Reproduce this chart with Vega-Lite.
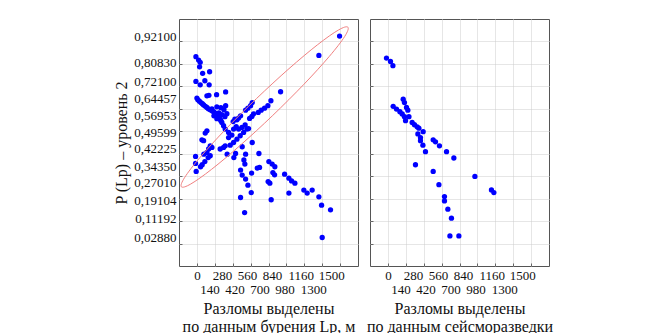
{
  "$schema": "https://vega.github.io/schema/vega-lite/v6.json",
  "padding": {"left": 113, "top": 18, "right": 5, "bottom": 0},
  "background": "white",
  "config": {
    "font": "Liberation Serif",
    "view": {"stroke": "#555555", "strokeWidth": 1},
    "axis": {
      "labelFont": "Liberation Serif", "titleFont": "Liberation Serif",
      "labelColor": "#111111", "titleColor": "#111111", "titleFontWeight": "normal",
      "domain": false, "gridColor": "#cccccc", "gridDash": [1, 1], "gridWidth": 1,
      "tickColor": "#666666"
    }
  },
  "datasets": {
    "drill": [
      {"x": 1594, "y": 0.924}, {"x": 1363, "y": 0.838},
      {"x": -11, "y": 0.832}, {"x": 19, "y": 0.817}, {"x": 37, "y": 0.807}, {"x": 30, "y": 0.787}, {"x": 64, "y": 0.758}, {"x": 142, "y": 0.765}, {"x": -11, "y": 0.722}, {"x": 37, "y": 0.707}, {"x": 89, "y": 0.725}, {"x": 137, "y": 0.707}, {"x": 112, "y": 0.658}, {"x": 134, "y": 0.66}, {"x": 220, "y": 0.663}, {"x": 321, "y": 0.675},
      {"x": 0, "y": 0.648}, {"x": 11, "y": 0.64}, {"x": 28, "y": 0.634}, {"x": 45, "y": 0.628}, {"x": 61, "y": 0.623}, {"x": 75, "y": 0.617}, {"x": 95, "y": 0.611}, {"x": 112, "y": 0.606}, {"x": 128, "y": 0.6}, {"x": 149, "y": 0.596}, {"x": 168, "y": 0.591}, {"x": 187, "y": 0.587}, {"x": 201, "y": 0.582}, {"x": 216, "y": 0.577}, {"x": 229, "y": 0.571}, {"x": 242, "y": 0.566}, {"x": 260, "y": 0.554}, {"x": 268, "y": 0.547}, {"x": 279, "y": 0.539}, {"x": 298, "y": 0.525}, {"x": 316, "y": 0.51}, {"x": 168, "y": 0.6}, {"x": 223, "y": 0.609}, {"x": 268, "y": 0.605}, {"x": 302, "y": 0.596}, {"x": 190, "y": 0.569}, {"x": 246, "y": 0.582}, {"x": 279, "y": 0.574}, {"x": 223, "y": 0.556}, {"x": 313, "y": 0.565}, {"x": 335, "y": 0.578}, {"x": 321, "y": 0.614},
      {"x": 544, "y": 0.594}, {"x": 570, "y": 0.603}, {"x": 600, "y": 0.614}, {"x": 618, "y": 0.628}, {"x": 685, "y": 0.584}, {"x": 718, "y": 0.594}, {"x": 756, "y": 0.603}, {"x": 793, "y": 0.614}, {"x": 827, "y": 0.636}, {"x": 935, "y": 0.676}, {"x": 589, "y": 0.557}, {"x": 614, "y": 0.566}, {"x": 633, "y": 0.577}, {"x": 424, "y": 0.554}, {"x": 447, "y": 0.551}, {"x": 405, "y": 0.543}, {"x": 465, "y": 0.559}, {"x": 488, "y": 0.569}, {"x": 539, "y": 0.528}, {"x": 577, "y": 0.512},
      {"x": 439, "y": 0.521}, {"x": 410, "y": 0.51}, {"x": 354, "y": 0.495}, {"x": 391, "y": 0.483}, {"x": 354, "y": 0.472}, {"x": 447, "y": 0.465}, {"x": 484, "y": 0.48}, {"x": 522, "y": 0.495}, {"x": 559, "y": 0.51}, {"x": 466, "y": 0.51}, {"x": 503, "y": 0.517}, {"x": 410, "y": 0.45}, {"x": 372, "y": 0.438}, {"x": 316, "y": 0.435}, {"x": 298, "y": 0.428}, {"x": 260, "y": 0.421}, {"x": 338, "y": 0.398}, {"x": 413, "y": 0.383}, {"x": 432, "y": 0.401}, {"x": 506, "y": 0.431}, {"x": 544, "y": 0.398}, {"x": 618, "y": 0.45}, {"x": 693, "y": 0.401},
      {"x": 112, "y": 0.502}, {"x": 93, "y": 0.492}, {"x": 75, "y": 0.458}, {"x": 56, "y": 0.462}, {"x": 149, "y": 0.435}, {"x": 131, "y": 0.421}, {"x": 168, "y": 0.428}, {"x": 112, "y": 0.406}, {"x": 149, "y": 0.391}, {"x": 78, "y": 0.398}, {"x": -15, "y": 0.388}, {"x": -15, "y": 0.357}, {"x": -8, "y": 0.321}, {"x": 41, "y": 0.342}, {"x": 59, "y": 0.351}, {"x": 89, "y": 0.365}, {"x": 126, "y": 0.383},
      {"x": 525, "y": 0.372}, {"x": 536, "y": 0.354}, {"x": 488, "y": 0.327}, {"x": 506, "y": 0.305}, {"x": 544, "y": 0.287}, {"x": 570, "y": 0.26}, {"x": 607, "y": 0.227}, {"x": 488, "y": 0.205}, {"x": 533, "y": 0.138}, {"x": 674, "y": 0.336}, {"x": 700, "y": 0.339}, {"x": 611, "y": 0.314}, {"x": 804, "y": 0.365}, {"x": 841, "y": 0.354}, {"x": 871, "y": 0.342}, {"x": 849, "y": 0.316}, {"x": 868, "y": 0.306}, {"x": 796, "y": 0.276}, {"x": 815, "y": 0.269}, {"x": 830, "y": 0.195}, {"x": 980, "y": 0.309}, {"x": 1028, "y": 0.291}, {"x": 1058, "y": 0.279}, {"x": 1095, "y": 0.269}, {"x": 1028, "y": 0.225}, {"x": 1195, "y": 0.238}, {"x": 1232, "y": 0.225}, {"x": 1288, "y": 0.238}, {"x": 1363, "y": 0.208}, {"x": 1393, "y": 0.171}, {"x": 1493, "y": 0.15}, {"x": 1400, "y": 0.027}
    ],
    "seismic": [
      {"x": -16, "y": 0.826}, {"x": 29, "y": 0.811}, {"x": 56, "y": 0.792}, {"x": 171, "y": 0.643}, {"x": 185, "y": 0.628}, {"x": 59, "y": 0.611}, {"x": 96, "y": 0.599}, {"x": 134, "y": 0.587}, {"x": 160, "y": 0.577}, {"x": 185, "y": 0.565}, {"x": 197, "y": 0.547}, {"x": 208, "y": 0.606}, {"x": 223, "y": 0.594}, {"x": 235, "y": 0.565}, {"x": 271, "y": 0.539}, {"x": 297, "y": 0.529}, {"x": 327, "y": 0.52}, {"x": 346, "y": 0.514}, {"x": 394, "y": 0.498}, {"x": 335, "y": 0.488}, {"x": 364, "y": 0.472}, {"x": 364, "y": 0.458}, {"x": 391, "y": 0.438}, {"x": 506, "y": 0.462}, {"x": 532, "y": 0.453}, {"x": 576, "y": 0.435}, {"x": 420, "y": 0.409}, {"x": 655, "y": 0.409}, {"x": 737, "y": 0.381}, {"x": 308, "y": 0.351}, {"x": 506, "y": 0.321}, {"x": 972, "y": 0.299}, {"x": 570, "y": 0.262}, {"x": 1157, "y": 0.239}, {"x": 1184, "y": 0.227}, {"x": 632, "y": 0.209}, {"x": 632, "y": 0.19}, {"x": 670, "y": 0.153}, {"x": 710, "y": 0.113}, {"x": 693, "y": 0.034}, {"x": 793, "y": 0.034}
    ],
    "ellipse": [
      {"i": 0, "x": 1687, "y": 0.9635}, {"i": 1, "x": 1651, "y": 0.922}, {"i": 2, "x": 1478, "y": 0.8327}, {"i": 3, "x": 1196, "y": 0.7093}, {"i": 4, "x": 847, "y": 0.5704}, {"i": 5, "x": 484, "y": 0.4373}, {"i": 6, "x": 163, "y": 0.3302}, {"i": 7, "x": -68, "y": 0.2653}, {"i": 8, "x": -173, "y": 0.2527}, {"i": 9, "x": -137, "y": 0.2941}, {"i": 10, "x": 35, "y": 0.3834}, {"i": 11, "x": 317, "y": 0.5069}, {"i": 12, "x": 666, "y": 0.6457}, {"i": 13, "x": 1029, "y": 0.7789}, {"i": 14, "x": 1350, "y": 0.886}, {"i": 15, "x": 1581, "y": 0.9508}
    ]
  },
  "spacing": 12,
  "bounds": "flush",
  "hconcat": [
    {
      "width": 179, "height": 247,
      "layer": [
        {
          "data": {"name": "drill"},
          "mark": {"type": "circle", "size": 28, "color": "#0000ff", "opacity": 1},
          "encoding": {
            "x": {"field": "x", "type": "quantitative", "scale": {"domain": [-200, 1800], "nice": false, "zero": false},
              "axis": {"orient": "bottom", "values": [0, 200, 400, 600, 800, 1000, 1200, 1400, 1600], "labels": false, "grid": true, "ticks": true, "tickSize": -3, "title": null}},
            "y": {"field": "y", "type": "quantitative", "scale": {"domain": [-0.1, 1.0], "nice": false, "zero": false},
              "axis": {"orient": "left", "values": [0, 0.1, 0.2, 0.3, 0.4, 0.5, 0.6, 0.7, 0.8, 0.9], "labels": false, "grid": true, "ticks": true, "tickSize": -3, "title": null}}
          }
        },
        {
          "data": {"name": "ellipse"},
          "mark": {"type": "line", "interpolate": "cardinal-closed", "color": "#f08080", "strokeWidth": 1},
          "encoding": {
            "x": {"field": "x", "type": "quantitative", "scale": {"domain": [-200, 1800], "nice": false, "zero": false},
              "axis": {"orient": "bottom", "values": [0, 140, 280, 420, 560, 700, 840, 980, 1160, 1300, 1500], "format": "d",
                "labelExpr": "indexof([140, 420, 700, 980, 1300], datum.value) >= 0 ? ['', datum.label] : datum.label",
                "labelFontSize": 13, "labelLineHeight": 14, "labelPadding": 3, "labelOverlap": false, "labelFlush": false, "labelBound": false,
                "ticks": false, "tickSize": 0, "grid": false,
                "title": ["Разломы выделены", "по данным бурения  Lp, м"], "titleFontSize": 16, "titleLineHeight": 18, "titlePadding": 4}},
            "y": {"field": "y", "type": "quantitative", "scale": {"domain": [-0.1, 1.0], "nice": false, "zero": false},
              "axis": {"orient": "left", "values": [0.0288, 0.11192, 0.19104, 0.2701, 0.3435, 0.42225, 0.49599, 0.56953, 0.64457, 0.721, 0.8083, 0.921],
                "labelExpr": "replace(format(datum.value, '.5f'), '.', ',')",
                "labelFontSize": 13, "labelPadding": 3, "labelOverlap": false, "labelFlush": false, "labelBound": false,
                "ticks": false, "tickSize": 0, "grid": false,
                "title": "P (Lp) – уровень 2", "titleFontSize": 16, "titlePadding": 4}},
            "order": {"field": "i", "type": "quantitative"}
          }
        }
      ],
      "resolve": {"axis": {"x": "independent", "y": "independent"}}
    },
    {
      "width": 179, "height": 247,
      "layer": [
        {
          "data": {"name": "seismic"},
          "mark": {"type": "circle", "size": 28, "color": "#0000ff", "opacity": 1},
          "encoding": {
            "x": {"field": "x", "type": "quantitative", "scale": {"domain": [-200, 1800], "nice": false, "zero": false},
              "axis": {"orient": "bottom", "values": [0, 200, 400, 600, 800, 1000, 1200, 1400, 1600], "labels": false, "grid": true, "ticks": true, "tickSize": -3, "title": null}},
            "y": {"field": "y", "type": "quantitative", "scale": {"domain": [-0.1, 1.0], "nice": false, "zero": false},
              "axis": {"orient": "left", "values": [0, 0.1, 0.2, 0.3, 0.4, 0.5, 0.6, 0.7, 0.8, 0.9], "labels": false, "grid": true, "ticks": true, "tickSize": -3, "title": null}}
          }
        },
        {
          "data": {"name": "seismic"},
          "mark": {"type": "circle", "size": 28, "color": "#0000ff", "opacity": 0},
          "encoding": {
            "x": {"field": "x", "type": "quantitative", "scale": {"domain": [-200, 1800], "nice": false, "zero": false},
              "axis": {"orient": "bottom", "values": [0, 140, 280, 420, 560, 700, 840, 980, 1160, 1300, 1500], "format": "d",
                "labelExpr": "indexof([140, 420, 700, 980, 1300], datum.value) >= 0 ? ['', datum.label] : datum.label",
                "labelFontSize": 13, "labelLineHeight": 14, "labelPadding": 3, "labelOverlap": false, "labelFlush": false, "labelBound": false,
                "ticks": false, "tickSize": 0, "grid": false,
                "title": ["Разломы выделены", "по данным сейсморазведки"], "titleFontSize": 16, "titleLineHeight": 18, "titlePadding": 4}},
            "y": {"field": "y", "type": "quantitative", "scale": {"domain": [-0.1, 1.0], "nice": false, "zero": false}, "axis": null}
          }
        }
      ],
      "resolve": {"axis": {"x": "independent", "y": "independent"}}
    }
  ]
}
